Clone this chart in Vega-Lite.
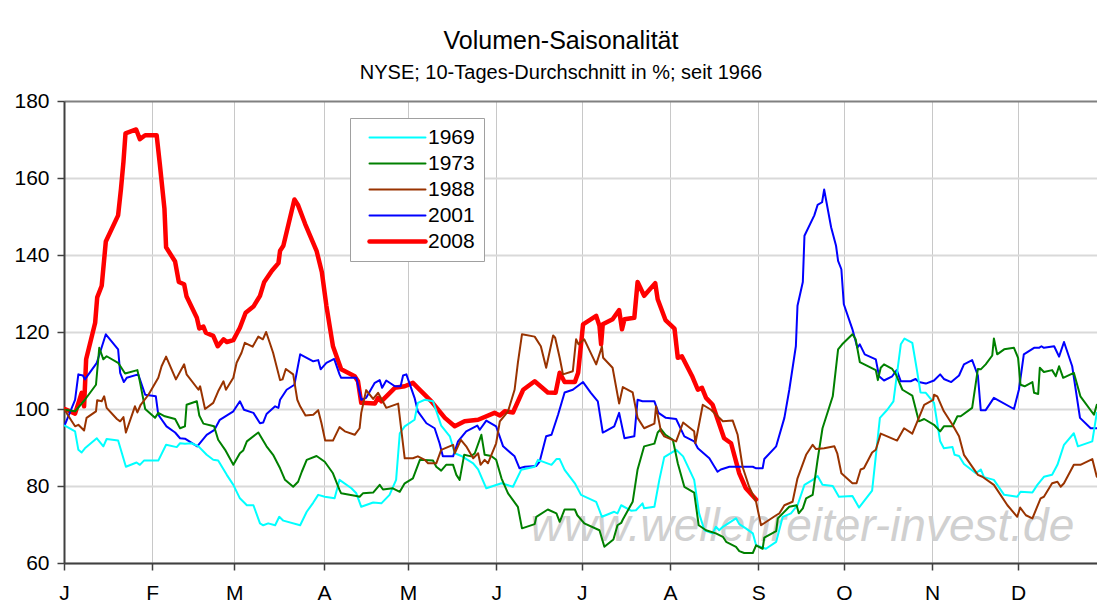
{
  "$schema": "https://vega.github.io/schema/vega-lite/v6.json",
  "width": 1033,
  "height": 462,
  "autosize": {"type": "none"},
  "padding": {"left": 64, "top": 101, "right": 0, "bottom": 44},
  "background": "white",
  "title": {
    "text": "Volumen-Saisonalität",
    "subtitle": "NYSE; 10-Tages-Durchschnitt in %; seit 1966",
    "anchor": "middle",
    "frame": "group",
    "dx": -19.5,
    "font": "Liberation Sans",
    "fontSize": 25,
    "fontWeight": "normal",
    "color": "#000000",
    "subtitleFont": "Liberation Sans",
    "subtitleFontSize": 20,
    "subtitleColor": "#000000",
    "subtitlePadding": 9,
    "offset": 7
  },
  "config": {"view": {"stroke": null}, "font": "Liberation Sans"},
  "data": {"values": [
    {"s":"2008","t":0.2,"v":100.0},{"s":"2008","t":2.7,"v":98.8},{"s":"2008","t":4.3,"v":104.2},{"s":"2008","t":4.9,"v":100.7},{"s":"2008","t":5.4,"v":112.9},{"s":"2008","t":7.6,"v":122.4},{"s":"2008","t":8.1,"v":129.0},{"s":"2008","t":9.2,"v":132.0},{"s":"2008","t":10.2,"v":143.5},{"s":"2008","t":13.2,"v":150.3},{"s":"2008","t":13.9,"v":157.2},{"s":"2008","t":14.5,"v":164.2},{"s":"2008","t":15.0,"v":171.6},{"s":"2008","t":17.6,"v":172.6},{"s":"2008","t":18.5,"v":170.1},{"s":"2008","t":19.8,"v":171.1},{"s":"2008","t":22.6,"v":171.1},{"s":"2008","t":23.4,"v":163.3},{"s":"2008","t":24.5,"v":152.0},{"s":"2008","t":24.9,"v":142.0},{"s":"2008","t":27.1,"v":138.3},{"s":"2008","t":28.0,"v":133.0},{"s":"2008","t":29.3,"v":132.4},{"s":"2008","t":29.9,"v":129.2},{"s":"2008","t":32.4,"v":123.7},{"s":"2008","t":33.0,"v":120.9},{"s":"2008","t":34.0,"v":121.4},{"s":"2008","t":34.6,"v":119.8},{"s":"2008","t":36.4,"v":119.0},{"s":"2008","t":37.5,"v":116.3},{"s":"2008","t":38.9,"v":118.1},{"s":"2008","t":39.7,"v":117.4},{"s":"2008","t":41.3,"v":117.9},{"s":"2008","t":42.9,"v":121.1},{"s":"2008","t":44.3,"v":125.0},{"s":"2008","t":46.2,"v":126.6},{"s":"2008","t":47.8,"v":129.4},{"s":"2008","t":48.8,"v":132.9},{"s":"2008","t":50.7,"v":135.9},{"s":"2008","t":52.3,"v":137.9},{"s":"2008","t":52.7,"v":141.1},{"s":"2008","t":53.5,"v":142.4},{"s":"2008","t":56.2,"v":154.4},{"s":"2008","t":57.1,"v":152.9},{"s":"2008","t":58.8,"v":148.1},{"s":"2008","t":61.6,"v":141.1},{"s":"2008","t":62.9,"v":135.5},{"s":"2008","t":64.0,"v":126.8},{"s":"2008","t":65.6,"v":116.3},{"s":"2008","t":67.6,"v":110.3},{"s":"2008","t":70.9,"v":108.5},{"s":"2008","t":71.7,"v":107.2},{"s":"2008","t":72.5,"v":101.6},{"s":"2008","t":75.8,"v":101.4},{"s":"2008","t":76.6,"v":102.9},{"s":"2008","t":77.4,"v":102.0},{"s":"2008","t":80.7,"v":105.5},{"s":"2008","t":83.1,"v":105.9},{"s":"2008","t":85.1,"v":106.8},{"s":"2008","t":86.3,"v":105.5},{"s":"2008","t":89.6,"v":102.0},{"s":"2008","t":92.9,"v":97.7},{"s":"2008","t":95.3,"v":95.5},{"s":"2008","t":97.7,"v":96.8},{"s":"2008","t":101.0,"v":97.2},{"s":"2008","t":105.0,"v":99.0},{"s":"2008","t":106.3,"v":98.3},{"s":"2008","t":107.5,"v":99.4},{"s":"2008","t":109.5,"v":99.1},{"s":"2008","t":112.0,"v":105.0},{"s":"2008","t":114.8,"v":107.2},{"s":"2008","t":118.0,"v":104.3},{"s":"2008","t":119.9,"v":104.2},{"s":"2008","t":120.9,"v":109.4},{"s":"2008","t":122.1,"v":107.0},{"s":"2008","t":124.6,"v":107.0},{"s":"2008","t":125.4,"v":109.4},{"s":"2008","t":126.6,"v":122.0},{"s":"2008","t":129.8,"v":124.2},{"s":"2008","t":130.6,"v":121.6},{"s":"2008","t":131.0,"v":116.8},{"s":"2008","t":131.4,"v":122.0},{"s":"2008","t":133.8,"v":123.3},{"s":"2008","t":135.4,"v":125.7},{"s":"2008","t":136.1,"v":120.7},{"s":"2008","t":136.7,"v":123.3},{"s":"2008","t":139.1,"v":123.7},{"s":"2008","t":139.9,"v":133.0},{"s":"2008","t":141.5,"v":129.4},{"s":"2008","t":144.2,"v":132.7},{"s":"2008","t":144.8,"v":128.5},{"s":"2008","t":146.7,"v":123.1},{"s":"2008","t":148.9,"v":120.9},{"s":"2008","t":149.7,"v":113.3},{"s":"2008","t":150.7,"v":113.7},{"s":"2008","t":153.3,"v":108.3},{"s":"2008","t":154.6,"v":105.0},{"s":"2008","t":155.6,"v":105.5},{"s":"2008","t":156.6,"v":102.9},{"s":"2008","t":158.2,"v":101.1},{"s":"2008","t":161.0,"v":92.4},{"s":"2008","t":162.7,"v":91.1},{"s":"2008","t":164.7,"v":83.3},{"s":"2008","t":166.3,"v":79.4},{"s":"2008","t":168.8,"v":76.5},

    {"s":"2001","t":0.2,"v":95.9},{"s":"2001","t":2.7,"v":102.4},{"s":"2001","t":3.5,"v":109.0},{"s":"2001","t":4.6,"v":108.7},{"s":"2001","t":5.1,"v":107.7},{"s":"2001","t":8.0,"v":112.0},{"s":"2001","t":10.2,"v":119.4},{"s":"2001","t":13.2,"v":115.5},{"s":"2001","t":13.7,"v":109.4},{"s":"2001","t":14.6,"v":107.0},{"s":"2001","t":15.3,"v":108.1},{"s":"2001","t":18.1,"v":109.0},{"s":"2001","t":19.8,"v":103.7},{"s":"2001","t":22.4,"v":103.3},{"s":"2001","t":23.0,"v":98.5},{"s":"2001","t":25.0,"v":95.5},{"s":"2001","t":27.1,"v":93.9},{"s":"2001","t":28.3,"v":92.4},{"s":"2001","t":29.5,"v":92.3},{"s":"2001","t":32.5,"v":90.3},{"s":"2001","t":34.8,"v":93.3},{"s":"2001","t":36.7,"v":94.6},{"s":"2001","t":38.0,"v":97.2},{"s":"2001","t":41.3,"v":99.4},{"s":"2001","t":42.9,"v":102.0},{"s":"2001","t":43.9,"v":99.8},{"s":"2001","t":46.2,"v":99.0},{"s":"2001","t":47.8,"v":96.3},{"s":"2001","t":48.6,"v":96.5},{"s":"2001","t":49.4,"v":98.7},{"s":"2001","t":51.5,"v":100.7},{"s":"2001","t":52.3,"v":100.3},{"s":"2001","t":52.7,"v":102.4},{"s":"2001","t":54.3,"v":105.0},{"s":"2001","t":56.2,"v":106.3},{"s":"2001","t":57.6,"v":114.2},{"s":"2001","t":60.8,"v":112.4},{"s":"2001","t":62.0,"v":112.7},{"s":"2001","t":62.6,"v":110.3},{"s":"2001","t":64.0,"v":112.0},{"s":"2001","t":65.9,"v":113.0},{"s":"2001","t":67.2,"v":109.0},{"s":"2001","t":67.6,"v":108.1},{"s":"2001","t":71.3,"v":108.1},{"s":"2001","t":72.5,"v":102.4},{"s":"2001","t":73.7,"v":102.9},{"s":"2001","t":75.8,"v":106.8},{"s":"2001","t":77.0,"v":107.5},{"s":"2001","t":77.6,"v":105.5},{"s":"2001","t":78.6,"v":107.4},{"s":"2001","t":80.7,"v":105.9},{"s":"2001","t":82.1,"v":105.9},{"s":"2001","t":82.7,"v":108.7},{"s":"2001","t":83.5,"v":109.0},{"s":"2001","t":85.5,"v":102.9},{"s":"2001","t":86.3,"v":99.4},{"s":"2001","t":88.4,"v":96.3},{"s":"2001","t":90.4,"v":95.0},{"s":"2001","t":91.6,"v":91.1},{"s":"2001","t":92.4,"v":87.7},{"s":"2001","t":94.9,"v":87.7},{"s":"2001","t":96.1,"v":91.6},{"s":"2001","t":98.1,"v":94.2},{"s":"2001","t":100.8,"v":95.7},{"s":"2001","t":101.4,"v":94.6},{"s":"2001","t":103.0,"v":97.0},{"s":"2001","t":105.4,"v":95.5},{"s":"2001","t":107.1,"v":90.3},{"s":"2001","t":109.9,"v":87.7},{"s":"2001","t":111.1,"v":84.6},{"s":"2001","t":112.4,"v":85.0},{"s":"2001","t":115.2,"v":85.2},{"s":"2001","t":116.0,"v":86.3},{"s":"2001","t":117.6,"v":92.9},{"s":"2001","t":118.9,"v":93.3},{"s":"2001","t":120.5,"v":98.5},{"s":"2001","t":122.1,"v":104.3},{"s":"2001","t":124.1,"v":105.0},{"s":"2001","t":126.6,"v":107.0},{"s":"2001","t":128.5,"v":104.2},{"s":"2001","t":130.2,"v":102.0},{"s":"2001","t":131.4,"v":93.9},{"s":"2001","t":132.0,"v":94.2},{"s":"2001","t":134.2,"v":95.5},{"s":"2001","t":135.4,"v":99.0},{"s":"2001","t":136.7,"v":92.4},{"s":"2001","t":139.1,"v":92.9},{"s":"2001","t":139.9,"v":102.4},{"s":"2001","t":141.1,"v":102.0},{"s":"2001","t":144.0,"v":102.0},{"s":"2001","t":145.0,"v":99.0},{"s":"2001","t":146.8,"v":97.7},{"s":"2001","t":149.3,"v":97.4},{"s":"2001","t":151.3,"v":92.9},{"s":"2001","t":153.7,"v":91.6},{"s":"2001","t":154.6,"v":89.8},{"s":"2001","t":157.4,"v":87.2},{"s":"2001","t":159.4,"v":83.7},{"s":"2001","t":160.2,"v":84.3},{"s":"2001","t":162.3,"v":85.0},{"s":"2001","t":168.0,"v":85.0},{"s":"2001","t":168.8,"v":84.6},{"s":"2001","t":170.4,"v":84.6},{"s":"2001","t":170.8,"v":87.0},{"s":"2001","t":173.7,"v":90.3},{"s":"2001","t":175.7,"v":97.7},{"s":"2001","t":176.9,"v":105.0},{"s":"2001","t":178.5,"v":116.3},{"s":"2001","t":178.9,"v":126.8},{"s":"2001","t":180.2,"v":133.0},{"s":"2001","t":180.6,"v":145.0},{"s":"2001","t":183.0,"v":150.3},{"s":"2001","t":183.8,"v":153.0},{"s":"2001","t":184.9,"v":153.7},{"s":"2001","t":185.4,"v":157.0},{"s":"2001","t":187.1,"v":147.2},{"s":"2001","t":188.3,"v":142.4},{"s":"2001","t":188.8,"v":138.5},{"s":"2001","t":189.6,"v":136.3},{"s":"2001","t":190.2,"v":127.2},{"s":"2001","t":192.3,"v":120.7},{"s":"2001","t":193.5,"v":115.9},{"s":"2001","t":194.1,"v":116.8},{"s":"2001","t":195.3,"v":114.2},{"s":"2001","t":198.0,"v":112.9},{"s":"2001","t":198.8,"v":108.5},{"s":"2001","t":200.0,"v":107.4},{"s":"2001","t":202.0,"v":108.5},{"s":"2001","t":203.1,"v":110.1},{"s":"2001","t":204.1,"v":107.2},{"s":"2001","t":206.5,"v":107.2},{"s":"2001","t":207.7,"v":107.8},{"s":"2001","t":208.5,"v":107.0},{"s":"2001","t":210.2,"v":106.6},{"s":"2001","t":212.2,"v":107.4},{"s":"2001","t":213.7,"v":109.0},{"s":"2001","t":214.6,"v":107.8},{"s":"2001","t":216.4,"v":107.0},{"s":"2001","t":218.3,"v":108.7},{"s":"2001","t":219.5,"v":111.6},{"s":"2001","t":221.5,"v":112.7},{"s":"2001","t":222.9,"v":108.7},{"s":"2001","t":223.6,"v":99.7},{"s":"2001","t":224.8,"v":99.7},{"s":"2001","t":226.8,"v":102.9},{"s":"2001","t":231.7,"v":100.0},{"s":"2001","t":232.9,"v":105.0},{"s":"2001","t":234.1,"v":114.2},{"s":"2001","t":236.6,"v":115.9},{"s":"2001","t":237.8,"v":115.9},{"s":"2001","t":238.4,"v":116.3},{"s":"2001","t":239.0,"v":115.9},{"s":"2001","t":241.5,"v":116.3},{"s":"2001","t":242.7,"v":113.6},{"s":"2001","t":243.9,"v":117.4},{"s":"2001","t":245.9,"v":111.1},{"s":"2001","t":247.8,"v":97.7},{"s":"2001","t":250.4,"v":95.0},{"s":"2001","t":251.9,"v":95.0},

    {"s":"1969","t":0.2,"v":95.7},{"s":"1969","t":2.7,"v":94.2},{"s":"1969","t":3.5,"v":89.4},{"s":"1969","t":4.3,"v":88.7},{"s":"1969","t":5.1,"v":89.8},{"s":"1969","t":8.0,"v":92.4},{"s":"1969","t":9.6,"v":90.3},{"s":"1969","t":10.4,"v":92.2},{"s":"1969","t":13.2,"v":91.8},{"s":"1969","t":15.1,"v":85.0},{"s":"1969","t":17.7,"v":86.1},{"s":"1969","t":18.5,"v":85.5},{"s":"1969","t":19.5,"v":86.6},{"s":"1969","t":23.0,"v":86.6},{"s":"1969","t":24.9,"v":90.7},{"s":"1969","t":27.5,"v":90.1},{"s":"1969","t":28.3,"v":91.1},{"s":"1969","t":29.5,"v":91.0},{"s":"1969","t":31.1,"v":91.1},{"s":"1969","t":32.8,"v":90.3},{"s":"1969","t":34.8,"v":88.1},{"s":"1969","t":36.4,"v":86.8},{"s":"1969","t":37.6,"v":86.6},{"s":"1969","t":39.7,"v":82.9},{"s":"1969","t":41.3,"v":80.3},{"s":"1969","t":42.9,"v":76.8},{"s":"1969","t":44.6,"v":75.0},{"s":"1969","t":46.2,"v":75.0},{"s":"1969","t":47.8,"v":70.3},{"s":"1969","t":48.6,"v":69.8},{"s":"1969","t":49.8,"v":70.3},{"s":"1969","t":51.5,"v":69.8},{"s":"1969","t":52.5,"v":72.0},{"s":"1969","t":53.5,"v":71.0},{"s":"1969","t":57.6,"v":69.8},{"s":"1969","t":59.2,"v":73.3},{"s":"1969","t":60.8,"v":75.7},{"s":"1969","t":62.0,"v":77.7},{"s":"1969","t":63.6,"v":77.2},{"s":"1969","t":66.0,"v":76.8},{"s":"1969","t":67.2,"v":81.6},{"s":"1969","t":70.1,"v":79.4},{"s":"1969","t":71.3,"v":78.1},{"s":"1969","t":72.5,"v":74.6},{"s":"1969","t":75.4,"v":75.7},{"s":"1969","t":77.4,"v":75.5},{"s":"1969","t":79.4,"v":77.7},{"s":"1969","t":81.0,"v":81.6},{"s":"1969","t":81.9,"v":93.7},{"s":"1969","t":83.1,"v":95.5},{"s":"1969","t":85.5,"v":97.2},{"s":"1969","t":86.3,"v":101.6},{"s":"1969","t":88.0,"v":102.4},{"s":"1969","t":90.0,"v":102.0},{"s":"1969","t":92.0,"v":95.7},{"s":"1969","t":94.1,"v":92.9},{"s":"1969","t":95.3,"v":88.5},{"s":"1969","t":96.9,"v":87.8},{"s":"1969","t":99.8,"v":85.9},{"s":"1969","t":101.0,"v":84.3},{"s":"1969","t":103.0,"v":79.4},{"s":"1969","t":106.7,"v":80.7},{"s":"1969","t":109.5,"v":79.8},{"s":"1969","t":111.5,"v":84.2},{"s":"1969","t":114.8,"v":85.0},{"s":"1969","t":115.6,"v":86.8},{"s":"1969","t":118.9,"v":85.5},{"s":"1969","t":120.1,"v":87.0},{"s":"1969","t":120.9,"v":87.0},{"s":"1969","t":122.1,"v":84.2},{"s":"1969","t":124.6,"v":80.7},{"s":"1969","t":126.1,"v":77.7},{"s":"1969","t":129.8,"v":75.9},{"s":"1969","t":131.2,"v":72.0},{"s":"1969","t":134.2,"v":73.3},{"s":"1969","t":135.0,"v":72.9},{"s":"1969","t":135.9,"v":75.0},{"s":"1969","t":138.3,"v":73.6},{"s":"1969","t":139.5,"v":73.7},{"s":"1969","t":141.1,"v":75.5},{"s":"1969","t":141.5,"v":74.2},{"s":"1969","t":144.0,"v":74.6},{"s":"1969","t":145.2,"v":81.6},{"s":"1969","t":146.4,"v":87.5},{"s":"1969","t":149.3,"v":89.4},{"s":"1969","t":151.0,"v":87.7},{"s":"1969","t":153.7,"v":81.6},{"s":"1969","t":154.9,"v":72.9},{"s":"1969","t":156.2,"v":68.5},{"s":"1969","t":158.2,"v":67.7},{"s":"1969","t":159.0,"v":69.4},{"s":"1969","t":159.8,"v":68.5},{"s":"1969","t":160.7,"v":69.4},{"s":"1969","t":163.9,"v":71.6},{"s":"1969","t":164.7,"v":70.1},{"s":"1969","t":166.3,"v":69.0},{"s":"1969","t":168.0,"v":67.7},{"s":"1969","t":168.8,"v":64.6},{"s":"1969","t":171.2,"v":63.7},{"s":"1969","t":173.7,"v":65.5},{"s":"1969","t":175.3,"v":72.0},{"s":"1969","t":177.3,"v":72.9},{"s":"1969","t":178.9,"v":75.0},{"s":"1969","t":180.6,"v":80.3},{"s":"1969","t":182.6,"v":81.6},{"s":"1969","t":183.8,"v":82.6},{"s":"1969","t":185.0,"v":80.3},{"s":"1969","t":187.5,"v":80.0},{"s":"1969","t":189.0,"v":77.2},{"s":"1969","t":192.3,"v":77.4},{"s":"1969","t":193.9,"v":74.4},{"s":"1969","t":197.1,"v":78.8},{"s":"1969","t":199.0,"v":97.7},{"s":"1969","t":200.8,"v":99.8},{"s":"1969","t":202.3,"v":102.0},{"s":"1969","t":203.2,"v":109.4},{"s":"1969","t":204.1,"v":116.8},{"s":"1969","t":205.0,"v":118.3},{"s":"1969","t":206.9,"v":117.2},{"s":"1969","t":208.0,"v":110.3},{"s":"1969","t":208.9,"v":104.3},{"s":"1969","t":210.2,"v":104.2},{"s":"1969","t":212.2,"v":101.6},{"s":"1969","t":213.7,"v":91.6},{"s":"1969","t":214.6,"v":89.8},{"s":"1969","t":216.7,"v":90.1},{"s":"1969","t":217.2,"v":88.1},{"s":"1969","t":218.3,"v":87.8},{"s":"1969","t":219.5,"v":85.7},{"s":"1969","t":222.4,"v":83.3},{"s":"1969","t":223.6,"v":84.3},{"s":"1969","t":224.4,"v":82.3},{"s":"1969","t":226.8,"v":81.6},{"s":"1969","t":229.3,"v":77.7},{"s":"1969","t":232.5,"v":77.2},{"s":"1969","t":233.3,"v":78.5},{"s":"1969","t":236.2,"v":78.3},{"s":"1969","t":237.4,"v":80.3},{"s":"1969","t":239.0,"v":82.4},{"s":"1969","t":241.0,"v":82.9},{"s":"1969","t":242.3,"v":85.5},{"s":"1969","t":243.9,"v":90.7},{"s":"1969","t":246.3,"v":93.7},{"s":"1969","t":247.3,"v":90.3},{"s":"1969","t":250.8,"v":91.6},{"s":"1969","t":251.9,"v":99.0},

    {"s":"1973","t":0.2,"v":99.8},{"s":"1973","t":2.7,"v":99.4},{"s":"1973","t":5.1,"v":102.4},{"s":"1973","t":7.8,"v":106.3},{"s":"1973","t":8.6,"v":115.9},{"s":"1973","t":9.6,"v":112.9},{"s":"1973","t":10.4,"v":113.7},{"s":"1973","t":13.2,"v":112.0},{"s":"1973","t":14.9,"v":109.2},{"s":"1973","t":17.9,"v":110.1},{"s":"1973","t":18.4,"v":107.7},{"s":"1973","t":19.8,"v":100.0},{"s":"1973","t":22.2,"v":97.7},{"s":"1973","t":23.0,"v":99.0},{"s":"1973","t":24.6,"v":98.1},{"s":"1973","t":27.1,"v":97.4},{"s":"1973","t":28.3,"v":95.0},{"s":"1973","t":29.5,"v":95.5},{"s":"1973","t":29.9,"v":101.1},{"s":"1973","t":32.4,"v":102.0},{"s":"1973","t":33.0,"v":98.3},{"s":"1973","t":34.0,"v":96.2},{"s":"1973","t":36.6,"v":95.5},{"s":"1973","t":37.6,"v":92.0},{"s":"1973","t":39.3,"v":89.4},{"s":"1973","t":41.3,"v":85.5},{"s":"1973","t":42.9,"v":88.5},{"s":"1973","t":43.7,"v":89.2},{"s":"1973","t":44.6,"v":91.6},{"s":"1973","t":47.4,"v":93.9},{"s":"1973","t":49.4,"v":90.3},{"s":"1973","t":51.0,"v":88.1},{"s":"1973","t":52.7,"v":84.6},{"s":"1973","t":53.9,"v":81.6},{"s":"1973","t":55.9,"v":79.8},{"s":"1973","t":57.1,"v":81.1},{"s":"1973","t":58.0,"v":83.7},{"s":"1973","t":59.2,"v":86.8},{"s":"1973","t":61.6,"v":87.8},{"s":"1973","t":63.6,"v":86.3},{"s":"1973","t":65.6,"v":83.3},{"s":"1973","t":67.2,"v":79.0},{"s":"1973","t":67.6,"v":78.1},{"s":"1973","t":71.3,"v":77.4},{"s":"1973","t":72.1,"v":77.2},{"s":"1973","t":72.9,"v":78.1},{"s":"1973","t":75.4,"v":78.3},{"s":"1973","t":77.0,"v":80.3},{"s":"1973","t":77.8,"v":79.1},{"s":"1973","t":80.2,"v":79.4},{"s":"1973","t":81.9,"v":78.5},{"s":"1973","t":83.1,"v":80.7},{"s":"1973","t":85.1,"v":82.0},{"s":"1973","t":86.8,"v":86.8},{"s":"1973","t":90.0,"v":86.6},{"s":"1973","t":90.8,"v":85.0},{"s":"1973","t":92.0,"v":84.0},{"s":"1973","t":93.2,"v":85.5},{"s":"1973","t":94.9,"v":85.5},{"s":"1973","t":95.7,"v":82.9},{"s":"1973","t":96.5,"v":81.6},{"s":"1973","t":97.6,"v":88.1},{"s":"1973","t":99.3,"v":87.7},{"s":"1973","t":100.2,"v":88.5},{"s":"1973","t":101.8,"v":93.3},{"s":"1973","t":102.6,"v":88.1},{"s":"1973","t":104.2,"v":87.8},{"s":"1973","t":105.4,"v":86.8},{"s":"1973","t":106.7,"v":82.0},{"s":"1973","t":108.3,"v":78.1},{"s":"1973","t":110.7,"v":74.6},{"s":"1973","t":111.7,"v":69.0},{"s":"1973","t":114.8,"v":70.1},{"s":"1973","t":115.2,"v":72.0},{"s":"1973","t":118.0,"v":73.9},{"s":"1973","t":120.1,"v":72.9},{"s":"1973","t":120.9,"v":70.7},{"s":"1973","t":122.1,"v":73.9},{"s":"1973","t":124.6,"v":73.9},{"s":"1973","t":125.2,"v":72.4},{"s":"1973","t":126.9,"v":70.3},{"s":"1973","t":130.6,"v":68.5},{"s":"1973","t":131.8,"v":64.2},{"s":"1973","t":134.0,"v":66.1},{"s":"1973","t":135.0,"v":69.8},{"s":"1973","t":135.9,"v":70.4},{"s":"1973","t":136.3,"v":71.3},{"s":"1973","t":138.7,"v":75.9},{"s":"1973","t":139.9,"v":84.3},{"s":"1973","t":141.5,"v":90.3},{"s":"1973","t":144.0,"v":91.0},{"s":"1973","t":144.8,"v":93.9},{"s":"1973","t":145.6,"v":94.8},{"s":"1973","t":146.7,"v":93.3},{"s":"1973","t":148.5,"v":92.0},{"s":"1973","t":149.7,"v":85.9},{"s":"1973","t":151.3,"v":79.8},{"s":"1973","t":153.7,"v":78.3},{"s":"1973","t":154.8,"v":69.8},{"s":"1973","t":156.6,"v":68.5},{"s":"1973","t":159.0,"v":67.7},{"s":"1973","t":160.7,"v":66.8},{"s":"1973","t":161.5,"v":65.5},{"s":"1973","t":163.9,"v":64.2},{"s":"1973","t":164.7,"v":63.1},{"s":"1973","t":165.9,"v":62.6},{"s":"1973","t":168.0,"v":62.6},{"s":"1973","t":168.8,"v":64.6},{"s":"1973","t":170.4,"v":63.7},{"s":"1973","t":170.8,"v":66.6},{"s":"1973","t":173.7,"v":68.3},{"s":"1973","t":174.1,"v":71.6},{"s":"1973","t":176.9,"v":74.6},{"s":"1973","t":178.7,"v":75.0},{"s":"1973","t":179.2,"v":72.9},{"s":"1973","t":180.2,"v":74.2},{"s":"1973","t":181.0,"v":76.8},{"s":"1973","t":182.6,"v":77.7},{"s":"1973","t":183.8,"v":86.8},{"s":"1973","t":185.0,"v":95.0},{"s":"1973","t":187.5,"v":103.3},{"s":"1973","t":188.8,"v":115.5},{"s":"1973","t":189.8,"v":116.8},{"s":"1973","t":192.3,"v":119.4},{"s":"1973","t":193.1,"v":118.1},{"s":"1973","t":194.1,"v":112.2},{"s":"1973","t":198.0,"v":110.1},{"s":"1973","t":198.5,"v":107.5},{"s":"1973","t":199.2,"v":110.7},{"s":"1973","t":200.0,"v":111.6},{"s":"1973","t":202.0,"v":110.4},{"s":"1973","t":202.9,"v":109.0},{"s":"1973","t":204.5,"v":105.0},{"s":"1973","t":206.9,"v":103.5},{"s":"1973","t":208.5,"v":96.8},{"s":"1973","t":209.8,"v":97.4},{"s":"1973","t":212.2,"v":95.9},{"s":"1973","t":213.7,"v":94.2},{"s":"1973","t":214.6,"v":95.5},{"s":"1973","t":216.7,"v":95.5},{"s":"1973","t":217.9,"v":98.1},{"s":"1973","t":218.7,"v":98.1},{"s":"1973","t":221.5,"v":100.3},{"s":"1973","t":222.9,"v":110.4},{"s":"1973","t":223.6,"v":110.3},{"s":"1973","t":224.8,"v":111.6},{"s":"1973","t":226.4,"v":113.9},{"s":"1973","t":226.8,"v":118.3},{"s":"1973","t":227.6,"v":114.2},{"s":"1973","t":229.3,"v":115.5},{"s":"1973","t":231.7,"v":115.9},{"s":"1973","t":232.7,"v":113.3},{"s":"1973","t":233.3,"v":106.3},{"s":"1973","t":234.3,"v":105.9},{"s":"1973","t":236.2,"v":107.0},{"s":"1973","t":236.6,"v":104.2},{"s":"1973","t":237.6,"v":103.9},{"s":"1973","t":238.0,"v":110.7},{"s":"1973","t":239.0,"v":109.6},{"s":"1973","t":241.0,"v":110.1},{"s":"1973","t":241.9,"v":108.5},{"s":"1973","t":242.7,"v":111.1},{"s":"1973","t":243.7,"v":108.1},{"s":"1973","t":246.3,"v":109.4},{"s":"1973","t":247.9,"v":103.3},{"s":"1973","t":251.2,"v":98.5},{"s":"1973","t":251.9,"v":101.1},

    {"s":"1988","t":0.2,"v":99.7},{"s":"1988","t":1.9,"v":96.8},{"s":"1988","t":2.7,"v":95.5},{"s":"1988","t":3.5,"v":95.9},{"s":"1988","t":4.9,"v":94.4},{"s":"1988","t":5.5,"v":97.7},{"s":"1988","t":7.8,"v":99.4},{"s":"1988","t":8.1,"v":102.3},{"s":"1988","t":9.2,"v":102.0},{"s":"1988","t":9.8,"v":103.3},{"s":"1988","t":10.4,"v":100.3},{"s":"1988","t":12.9,"v":97.4},{"s":"1988","t":13.7,"v":96.8},{"s":"1988","t":14.5,"v":97.9},{"s":"1988","t":15.1,"v":93.9},{"s":"1988","t":17.3,"v":100.7},{"s":"1988","t":17.9,"v":99.1},{"s":"1988","t":18.7,"v":101.1},{"s":"1988","t":20.6,"v":103.7},{"s":"1988","t":23.0,"v":108.1},{"s":"1988","t":23.8,"v":111.1},{"s":"1988","t":24.9,"v":113.6},{"s":"1988","t":27.3,"v":107.7},{"s":"1988","t":29.3,"v":111.6},{"s":"1988","t":29.9,"v":109.0},{"s":"1988","t":32.8,"v":105.0},{"s":"1988","t":33.2,"v":105.9},{"s":"1988","t":34.4,"v":100.0},{"s":"1988","t":36.4,"v":101.6},{"s":"1988","t":37.6,"v":104.6},{"s":"1988","t":38.9,"v":107.2},{"s":"1988","t":39.5,"v":105.0},{"s":"1988","t":41.3,"v":108.1},{"s":"1988","t":42.1,"v":112.0},{"s":"1988","t":43.3,"v":114.6},{"s":"1988","t":44.1,"v":117.2},{"s":"1988","t":46.0,"v":116.2},{"s":"1988","t":47.4,"v":118.8},{"s":"1988","t":48.5,"v":118.1},{"s":"1988","t":49.3,"v":120.0},{"s":"1988","t":51.0,"v":114.6},{"s":"1988","t":52.7,"v":107.5},{"s":"1988","t":53.3,"v":107.7},{"s":"1988","t":54.1,"v":110.4},{"s":"1988","t":55.9,"v":109.0},{"s":"1988","t":56.9,"v":102.4},{"s":"1988","t":57.6,"v":100.7},{"s":"1988","t":58.9,"v":98.3},{"s":"1988","t":60.8,"v":98.5},{"s":"1988","t":62.0,"v":99.7},{"s":"1988","t":62.8,"v":96.3},{"s":"1988","t":63.7,"v":91.8},{"s":"1988","t":65.6,"v":91.8},{"s":"1988","t":67.2,"v":95.3},{"s":"1988","t":68.5,"v":94.2},{"s":"1988","t":70.9,"v":93.3},{"s":"1988","t":72.1,"v":95.0},{"s":"1988","t":72.5,"v":99.0},{"s":"1988","t":73.7,"v":104.9},{"s":"1988","t":75.4,"v":102.6},{"s":"1988","t":76.6,"v":104.2},{"s":"1988","t":78.6,"v":100.3},{"s":"1988","t":81.5,"v":101.4},{"s":"1988","t":83.1,"v":87.2},{"s":"1988","t":85.1,"v":87.2},{"s":"1988","t":86.3,"v":87.7},{"s":"1988","t":88.0,"v":86.8},{"s":"1988","t":88.8,"v":85.9},{"s":"1988","t":90.8,"v":85.9},{"s":"1988","t":92.0,"v":89.4},{"s":"1988","t":94.9,"v":90.7},{"s":"1988","t":95.3,"v":88.5},{"s":"1988","t":96.8,"v":92.0},{"s":"1988","t":98.1,"v":90.3},{"s":"1988","t":99.8,"v":87.2},{"s":"1988","t":101.0,"v":88.5},{"s":"1988","t":101.6,"v":85.5},{"s":"1988","t":102.6,"v":86.8},{"s":"1988","t":103.4,"v":85.9},{"s":"1988","t":105.4,"v":91.1},{"s":"1988","t":106.3,"v":96.8},{"s":"1988","t":108.3,"v":99.4},{"s":"1988","t":109.9,"v":105.0},{"s":"1988","t":110.7,"v":112.0},{"s":"1988","t":111.7,"v":119.4},{"s":"1988","t":114.8,"v":118.8},{"s":"1988","t":116.3,"v":116.3},{"s":"1988","t":117.6,"v":110.7},{"s":"1988","t":119.3,"v":119.1},{"s":"1988","t":119.8,"v":118.5},{"s":"1988","t":120.9,"v":113.3},{"s":"1988","t":121.7,"v":109.0},{"s":"1988","t":124.1,"v":109.8},{"s":"1988","t":124.9,"v":118.1},{"s":"1988","t":125.5,"v":116.8},{"s":"1988","t":126.9,"v":118.1},{"s":"1988","t":129.8,"v":111.6},{"s":"1988","t":131.2,"v":116.2},{"s":"1988","t":131.5,"v":113.3},{"s":"1988","t":133.8,"v":110.7},{"s":"1988","t":135.4,"v":101.4},{"s":"1988","t":136.3,"v":105.7},{"s":"1988","t":138.7,"v":104.3},{"s":"1988","t":139.9,"v":97.7},{"s":"1988","t":141.5,"v":95.0},{"s":"1988","t":144.0,"v":96.2},{"s":"1988","t":144.4,"v":100.7},{"s":"1988","t":145.6,"v":94.2},{"s":"1988","t":146.4,"v":92.9},{"s":"1988","t":149.3,"v":91.6},{"s":"1988","t":151.0,"v":96.5},{"s":"1988","t":153.7,"v":94.2},{"s":"1988","t":154.0,"v":91.1},{"s":"1988","t":155.8,"v":101.1},{"s":"1988","t":157.8,"v":99.8},{"s":"1988","t":160.7,"v":96.8},{"s":"1988","t":163.1,"v":97.0},{"s":"1988","t":164.3,"v":93.3},{"s":"1988","t":165.5,"v":85.0},{"s":"1988","t":167.1,"v":79.8},{"s":"1988","t":168.8,"v":75.9},{"s":"1988","t":170.0,"v":69.8},{"s":"1988","t":173.7,"v":72.4},{"s":"1988","t":174.5,"v":72.9},{"s":"1988","t":175.7,"v":75.0},{"s":"1988","t":177.7,"v":75.9},{"s":"1988","t":178.9,"v":82.0},{"s":"1988","t":181.0,"v":88.1},{"s":"1988","t":182.6,"v":90.7},{"s":"1988","t":183.4,"v":89.6},{"s":"1988","t":185.4,"v":89.8},{"s":"1988","t":187.9,"v":90.3},{"s":"1988","t":188.6,"v":88.5},{"s":"1988","t":189.6,"v":83.3},{"s":"1988","t":192.3,"v":80.7},{"s":"1988","t":193.3,"v":80.7},{"s":"1988","t":194.3,"v":84.3},{"s":"1988","t":195.1,"v":84.6},{"s":"1988","t":197.1,"v":88.7},{"s":"1988","t":198.0,"v":89.4},{"s":"1988","t":199.2,"v":93.6},{"s":"1988","t":203.2,"v":91.8},{"s":"1988","t":204.9,"v":95.0},{"s":"1988","t":206.9,"v":93.6},{"s":"1988","t":208.8,"v":98.5},{"s":"1988","t":209.8,"v":101.1},{"s":"1988","t":212.0,"v":102.4},{"s":"1988","t":212.2,"v":103.7},{"s":"1988","t":213.0,"v":103.3},{"s":"1988","t":214.6,"v":99.4},{"s":"1988","t":216.7,"v":95.9},{"s":"1988","t":218.3,"v":92.9},{"s":"1988","t":219.5,"v":88.1},{"s":"1988","t":222.9,"v":82.9},{"s":"1988","t":224.0,"v":82.4},{"s":"1988","t":226.8,"v":80.3},{"s":"1988","t":230.1,"v":75.0},{"s":"1988","t":232.5,"v":72.0},{"s":"1988","t":233.2,"v":74.4},{"s":"1988","t":234.6,"v":72.4},{"s":"1988","t":236.2,"v":71.6},{"s":"1988","t":238.2,"v":76.8},{"s":"1988","t":239.0,"v":77.2},{"s":"1988","t":241.0,"v":80.7},{"s":"1988","t":242.3,"v":81.1},{"s":"1988","t":243.1,"v":79.8},{"s":"1988","t":243.9,"v":80.7},{"s":"1988","t":246.3,"v":85.5},{"s":"1988","t":247.9,"v":85.5},{"s":"1988","t":250.8,"v":87.0},{"s":"1988","t":251.9,"v":82.4}
  ]},
  "layer": [
    {
      "data": {"values": [{}]},
      "mark": {"type": "text", "text": "www.wellenreiter-invest.de", "font": "Liberation Sans", "fontSize": 46, "fontStyle": "italic", "color": "#d0d0d0", "baseline": "alphabetic", "align": "center"},
      "encoding": {
        "x": {"datum": 180.1, "type": "quantitative"},
        "y": {"datum": 65.7, "type": "quantitative"}
      }
    },
    {
      "mark": {"type": "line", "clip": true, "strokeJoin": "round", "strokeCap": "round"},
      "encoding": {
        "x": {
          "field": "t", "type": "quantitative",
          "scale": {"domain": [0, 251.95], "nice": false, "zero": false},
          "axis": {
            "title": null,
            "values": [0, 21.5, 41.5, 63.4, 83.9, 105.4, 126.3, 147.8, 169.3, 190.2, 211.7, 232.7],
            "labelExpr": "['J','F','M','A','M','J','J','A','S','O','N','D'][indexof([0,21.5,41.5,63.4,83.9,105.4,126.3,147.8,169.3,190.2,211.7,232.7], datum.value)]",
            "grid": true, "gridColor": "#c8c8c8", "gridWidth": 1,
            "domainColor": "#404040", "domainWidth": 2,
            "tickColor": "#404040", "tickWidth": 1.5, "tickSize": 7,
            "labelFont": "Liberation Sans", "labelFontSize": 21, "labelColor": "#000000",
            "labelPadding": 12, "labelFlush": false, "labelOverlap": false
          }
        },
        "y": {
          "field": "v", "type": "quantitative",
          "scale": {"domain": [60, 180], "nice": false, "zero": false},
          "axis": {
            "title": null,
            "values": [60, 80, 100, 120, 140, 160, 180],
            "grid": true,
            "gridColor": {"condition": {"test": "datum.value === 180", "value": "#808080"}, "value": "#d9d9d9"},
            "gridWidth": 2,
            "domainColor": "#404040", "domainWidth": 2,
            "tickColor": "#404040", "tickWidth": 1.5, "tickSize": 7,
            "labelFont": "Liberation Sans", "labelFontSize": 21, "labelColor": "#000000",
            "labelPadding": 8
          }
        },
        "color": {
          "field": "s", "type": "nominal",
          "scale": {"domain": ["1969", "1973", "1988", "2001", "2008"], "range": ["#00FFFF", "#008000", "#993300", "#0000FF", "#FF0000"]},
          "legend": {
            "title": null,
            "orient": "none",
            "legendX": 286,
            "legendY": 17,
            "direction": "vertical",
            "fillColor": "#ffffff",
            "strokeColor": "#a0a0a0",
            "padding": 9,
            "labelFont": "Liberation Sans",
            "labelFontSize": 21,
            "labelColor": "#000000",
            "symbolType": "M0,0H11.2",
            "symbolSize": 100,
            "symbolStrokeWidth": 2,
            "rowPadding": 4,
            "labelOffset": 48,
            "encode": {"symbols": {"update": {"strokeWidth": {"signal": "datum.value === '2008' ? 4.5 : 2"}, "strokeCap": {"value": "round"}}}}
          }
        },
        "strokeWidth": {"condition": {"test": "datum.s === '2008'", "value": 4.5}, "value": 2}
      }
    }
  ]
}
